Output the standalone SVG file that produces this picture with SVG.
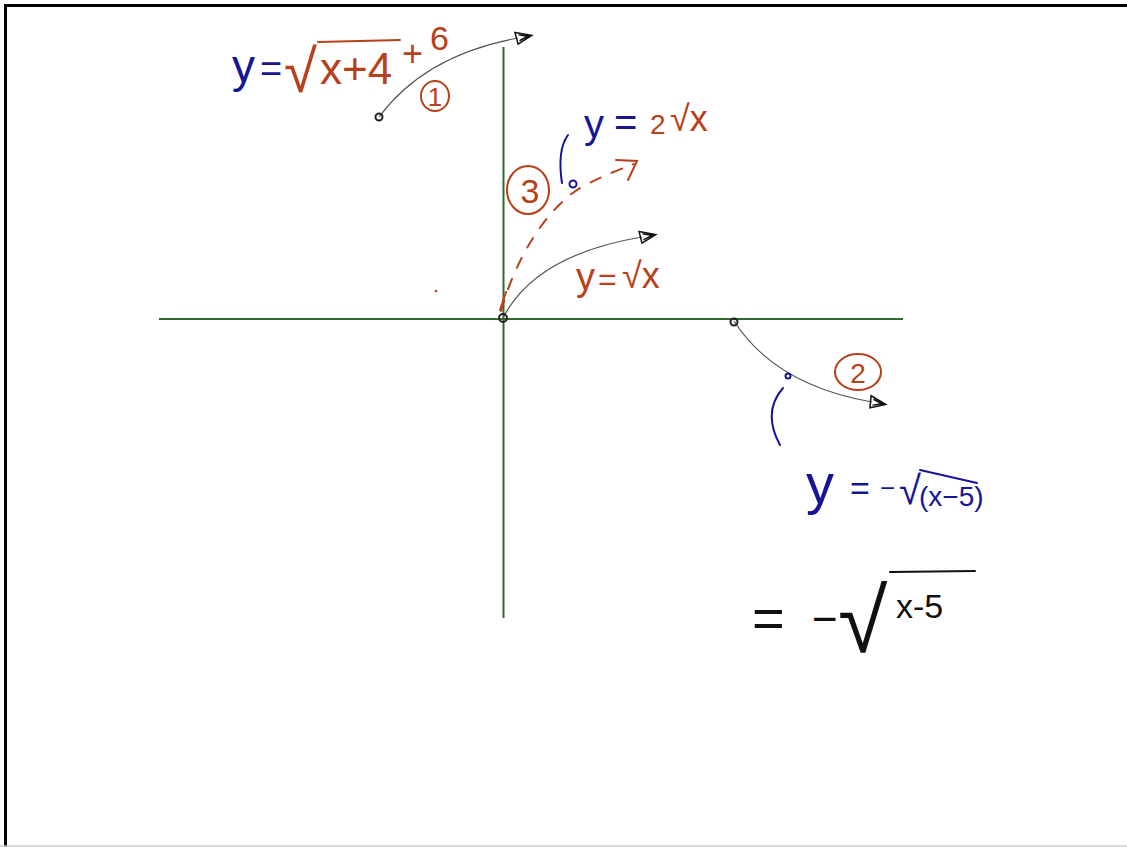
<svg xmlns="http://www.w3.org/2000/svg" width="1127" height="847" viewBox="0 0 1127 847">
<style>
.axis{stroke:#2f6b2f;stroke-width:2;fill:none}
.curve{stroke:#555;stroke-width:1.2;fill:none}
.dot{stroke:#222;stroke-width:2;fill:none}
.blue{fill:#161694;font-family:"Liberation Sans",Arial,sans-serif}
.rust{fill:#b8401a;font-family:"Liberation Sans",Arial,sans-serif}
.ink{fill:#111;font-family:"Liberation Sans",Arial,sans-serif}
.bstroke{stroke:#161694;stroke-width:2;fill:none;stroke-linecap:round}
.rstroke{stroke:#b8401a;stroke-width:2;fill:none;stroke-linecap:round}
.kstroke{stroke:#111;stroke-width:2;fill:none;stroke-linecap:round}
</style>
<defs>
<marker id="scribble" markerWidth="20" markerHeight="16" refX="4" refY="8" orient="auto" markerUnits="userSpaceOnUse">
<path d="M2,2 L18,8 L3,14 Z M5,5 L14,8 L5,11" fill="none" stroke="#111" stroke-width="1.5"/>
</marker>
</defs>
<rect x="0" y="0" width="1127" height="847" fill="#fff"/>
<line x1="5.5" y1="4" x2="5.5" y2="847" stroke="#000" stroke-width="3"/>
<line x1="4" y1="5.5" x2="1127" y2="5.5" stroke="#000" stroke-width="3"/>
<line x1="0" y1="846" x2="1127" y2="846" stroke="#ccc" stroke-width="1.5"/>

<g id="axes">
<line class="axis" x1="159" y1="319" x2="903" y2="319"/>
<line class="axis" x1="503.5" y1="47" x2="503.5" y2="618"/>
</g>

<g id="connectors">
<path class="curve" d="M379,117 Q425,55 518,38" marker-end="url(#scribble)"/>
<path class="curve" d="M503,318 Q535,255 642,237" marker-end="url(#scribble)"/>
<path class="curve" d="M734,321 Q775,385 872,402" marker-end="url(#scribble)"/>
<path class="rstroke" d="M501,311 C515,260 545,210 580,188 C600,177 618,170 634,164" stroke-dasharray="11 12" stroke-width="1.5"/>
<path class="rstroke" d="M616,160 L637,161 L628,180" stroke-width="1.5"/>
</g>

<g id="points">
<circle class="dot" cx="379" cy="117" r="3.5"/>
<circle class="dot" cx="503" cy="318" r="4"/>
<circle class="dot" cx="734" cy="322" r="3.5"/>
<circle cx="436" cy="291" r="1.3" fill="#b8401a"/>
<line class="rstroke" x1="500" y1="310" x2="506" y2="292" stroke-width="1.5"/>
</g>

<g id="eq1">
<text class="blue" x="232" y="82" font-size="46">y</text>
<text class="blue" x="260" y="82" font-size="38">=</text>
<text class="rust" x="284" y="92" font-size="60">√</text>
<line class="rstroke" x1="318" y1="42" x2="400" y2="40"/>
<text class="rust" x="320" y="84" font-size="44">x+4</text>
<text class="rust" x="402" y="66" font-size="36">+</text>
<text class="rust" x="430" y="50" font-size="34">6</text>
</g>
<g id="label1">
<ellipse class="rstroke" cx="435" cy="96" rx="14" ry="15"/>
<text class="rust" x="435" y="106" font-size="26" text-anchor="middle">1</text>
</g>

<g id="eq3">
<text class="blue" x="584" y="138" font-size="40">y</text>
<text class="blue" x="614" y="136" font-size="40">=</text>
<text class="rust" x="650" y="134" font-size="28">2</text>
<text class="rust" x="670" y="131" font-size="36">√x</text>
</g>
<g id="bracket3">
<path class="bstroke" d="M568,135 Q557,150 562,183"/>
<circle class="bstroke" cx="573" cy="184" r="3.5"/>
</g>
<g id="label3">
<ellipse class="rstroke" cx="528" cy="190" rx="21" ry="24"/>
<text class="rust" x="530" y="203" font-size="34" text-anchor="middle">3</text>
</g>

<g id="eqroot">
<text class="rust" x="576" y="290" font-size="38">y</text>
<text class="rust" x="598" y="290" font-size="32">=</text>
<text class="rust" x="622" y="288" font-size="36">√x</text>
</g>

<g id="label2">
<ellipse class="rstroke" cx="858" cy="372" rx="23" ry="18"/>
<text class="rust" x="858" y="383" font-size="28" text-anchor="middle">2</text>
</g>
<g id="mark2">
<circle class="bstroke" cx="788" cy="376" r="2.5" stroke-width="1.5"/>
<path class="bstroke" d="M783,388 Q762,412 780,445"/>
</g>

<g id="eq2">
<text class="blue" x="806" y="503" font-size="56">y</text>
<text class="blue" x="850" y="500" font-size="34">=</text>
<text class="blue" x="880" y="497" font-size="26">−</text>
<text class="blue" x="899" y="504" font-size="40">√</text>
<line class="bstroke" x1="920" y1="470" x2="977" y2="483" stroke-width="1.5"/>
<text class="blue" x="919" y="506" font-size="28">(x−5)</text>
</g>

<g id="eq4">
<text class="ink" x="752" y="637" font-size="56">=</text>
<text class="ink" x="812" y="634" font-size="44">−</text>
<text class="ink" x="838" y="652" font-size="90">√</text>
<line class="kstroke" x1="890" y1="572" x2="975" y2="571" stroke-width="1.5"/>
<text class="ink" x="896" y="618" font-size="34">x-5</text>
</g>
</svg>
